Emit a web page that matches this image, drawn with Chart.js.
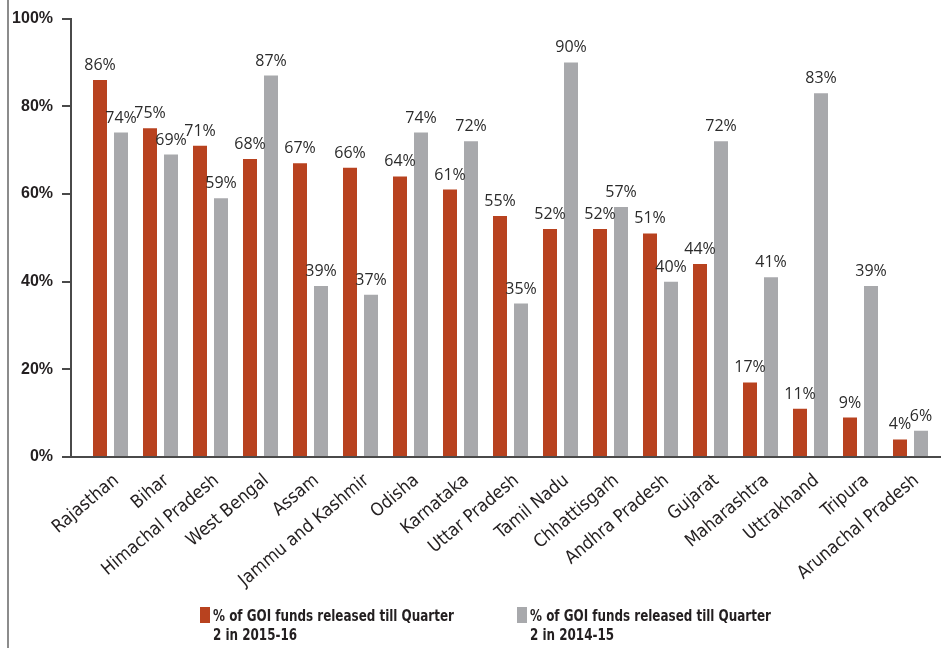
<!DOCTYPE html>
<html>
<head>
<meta charset="utf-8">
<script src="https://cdn.jsdelivr.net/npm/chart.js@4.4.1/dist/chart.umd.min.js"></script>
<style>
  html, body { margin: 0; padding: 0; background: #fff; }
  #wrap { position: relative; width: 942px; height: 648px; overflow: hidden; }
  #frame { position: absolute; left: 7px; top: 0; height: 648px; border-left: 2px solid #8c8c8c; }
  canvas { position: absolute; left: 0; top: 0; }
  .legend-item { position: absolute; top: 606px; font: bold 16px 'DejaVu Sans Condensed', 'Liberation Sans', sans-serif;
                 color: #231f20; line-height: 19px; }
  .legend-item .sw { position: absolute; left: 0; top: 1px; width: 10px; height: 16px; }
  .legend-item .txt { margin-left: 13px; white-space: nowrap; transform: scaleX(0.83); transform-origin: 0 0; }
</style>
</head>
<body>
<div id="wrap">
  <div id="frame"></div>
  <canvas id="fundsChart" width="942" height="648"></canvas>
</div>
<script>
/* GOI funds released till Q2 — state comparison */

const STATES = [
  'Rajasthan', 'Bihar', 'Himachal Pradesh', 'West Bengal', 'Assam',
  'Jammu and Kashmir', 'Odisha', 'Karnataka', 'Uttar Pradesh', 'Tamil Nadu',
  'Chhattisgarh', 'Andhra Pradesh', 'Gujarat', 'Maharashtra', 'Uttrakhand',
  'Tripura', 'Arunachal Pradesh'
];
const FUNDS_2015_16 = [86, 75, 71, 68, 67, 66, 64, 61, 55, 52, 52, 51, 44, 17, 11, 9, 4];
const FUNDS_2014_15 = [74, 69, 59, 87, 39, 37, 74, 72, 35, 90, 57, 40, 72, 41, 83, 39, 6];
const Y_TICKS = [0, 20, 40, 60, 80, 100];
const SERIES_LABELS = [
  ['% of GOI funds released till Quarter', '2 in 2015-16'],
  ['% of GOI funds released till Quarter', '2 in 2014-15'],
];

const RED = '#b8421f';
const GREY = '#a8a9ac';
const INK = '#231f20';
const AXIS = '#4a4a4a';

// percent labels over each bar
const valueLabels = {
  id: 'valueLabels',
  afterDatasetsDraw(chart) {
    const ctx = chart.ctx;
    ctx.save();
    ctx.font = "16px 'Open Sans', sans-serif";
    ctx.fillStyle = '#2b2b2b';
    ctx.textAlign = 'center';
    ctx.textBaseline = 'alphabetic';
    chart.data.datasets.forEach((ds, i) => {
      chart.getDatasetMeta(i).data.forEach((bar, j) => {
        ctx.fillText(ds.data[j] + '%', bar.x, bar.y - 10);
      });
    });
    ctx.restore();
  }
};

const chart = new Chart(document.getElementById('fundsChart'), {
  type: 'bar',
  data: {
    labels: STATES,
    datasets: [
      { label: SERIES_LABELS[0].join(' '), data: FUNDS_2015_16, backgroundColor: RED },
      { label: SERIES_LABELS[1].join(' '), data: FUNDS_2014_15, backgroundColor: GREY },
    ]
  },
  options: {
    responsive: false,
    animation: false,
    events: [],
    layout: { padding: { top: 9, right: 2, left: 0, bottom: 0 } },
    datasets: { bar: { categoryPercentage: 0.84, barPercentage: 0.667 } },
    plugins: { legend: { display: false }, tooltip: { enabled: false } },
    scales: {
      x: {
        offset: true,
        grid: { display: false },
        border: { color: AXIS, width: 2 },
        ticks: {
          color: INK,
          font: { family: "'DejaVu Sans Condensed', 'Liberation Sans', sans-serif", size: 18 },
          minRotation: 40, maxRotation: 40, autoSkip: false,
          padding: 5, labelOffset: 6
        },
        // leave more room on the left than on the right, like the original
        afterBuildTicks: s => { s._startValue = -0.79; s._valueRange = 17.38; },
        afterFit: s => { s.height = 191; }
      },
      y: {
        min: 0, max: 100,
        afterBuildTicks: s => { s.ticks = Y_TICKS.map(v => ({ value: v })); },
        grid: { drawOnChartArea: false, tickLength: 9, color: AXIS, lineWidth: 2 },
        border: { color: AXIS, width: 2 },
        ticks: {
          color: INK,
          font: { family: "'Liberation Sans', sans-serif", size: 16, weight: 'bold' },
          padding: 9,
          callback: v => v + '%'
        },
        afterFit: s => { s.width = 71; }
      }
    }
  },
  plugins: [valueLabels]
});

// two-line legend under the chart
const LEGEND_X = [200, 517];
chart.data.datasets.forEach((ds, i) => {
  const item = document.createElement('div');
  item.className = 'legend-item';
  item.style.left = LEGEND_X[i] + 'px';
  item.innerHTML = `<span class="sw" style="background:${ds.backgroundColor}"></span>` +
    `<div class="txt">${SERIES_LABELS[i].join('<br>')}</div>`;
  document.getElementById('wrap').appendChild(item);
});
</script>
</body>
</html>
